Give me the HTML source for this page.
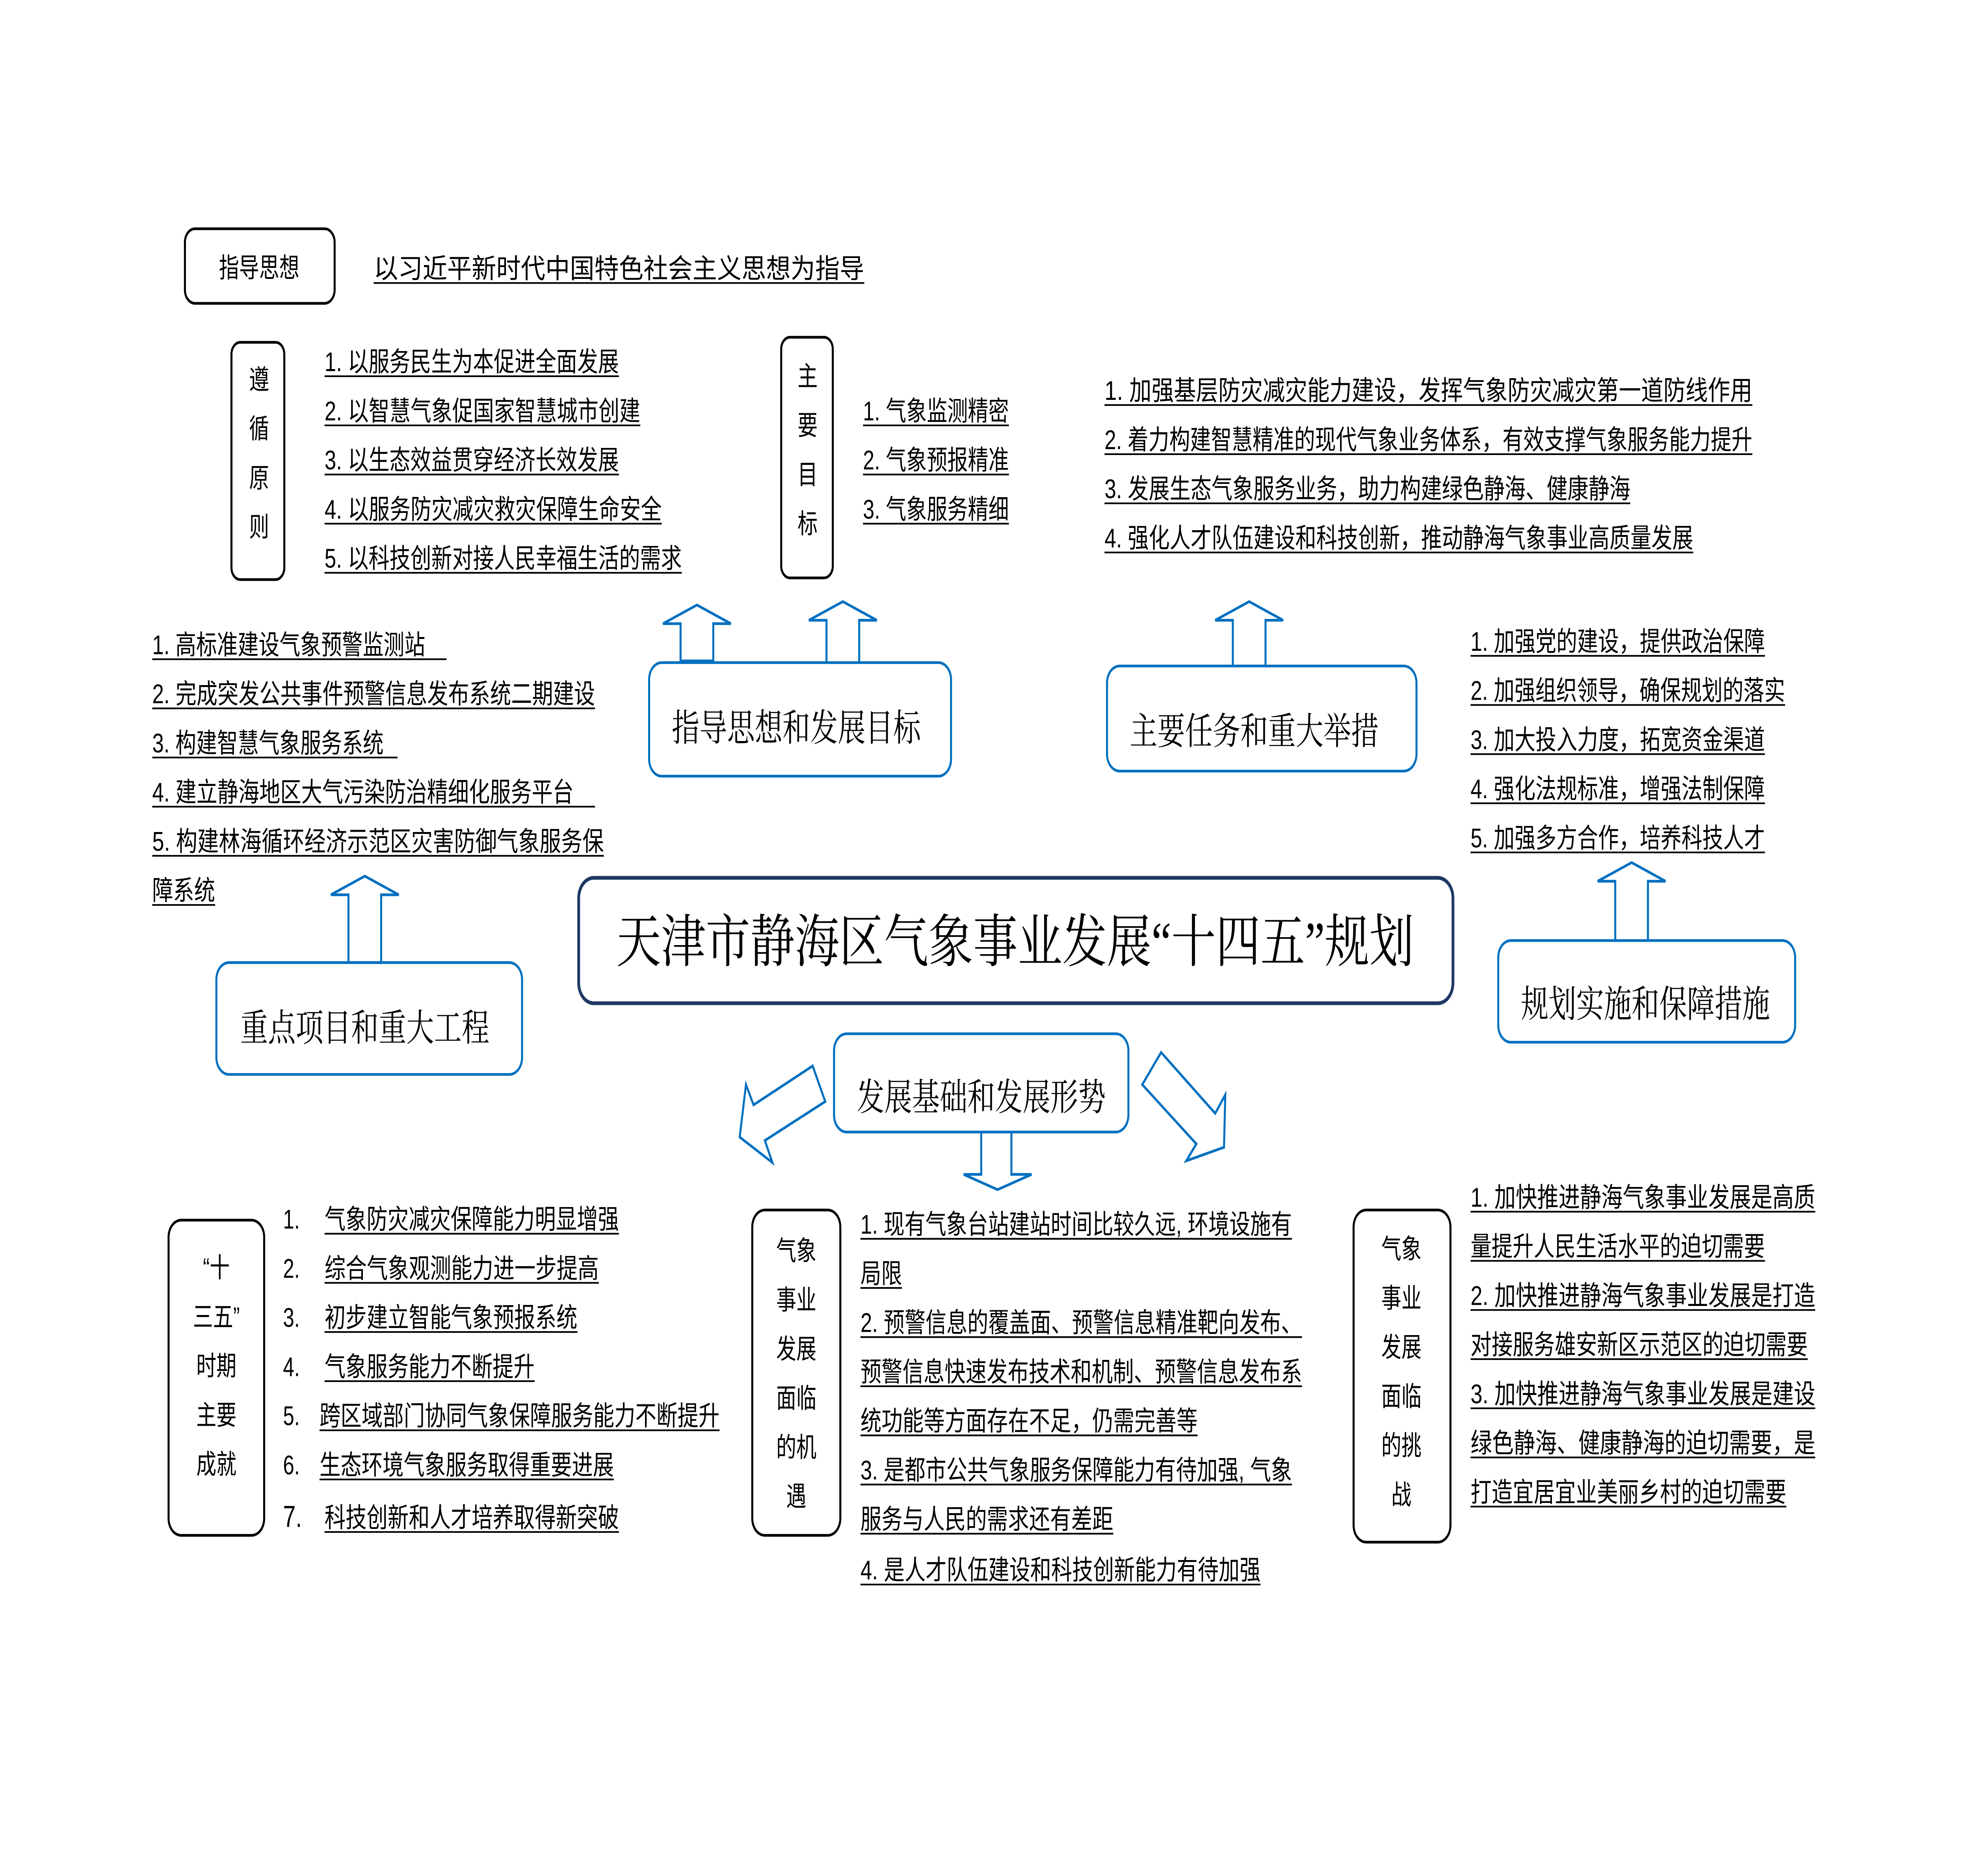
<!DOCTYPE html>
<html><head><meta charset="utf-8"><style>
html,body{margin:0;padding:0;background:#fff;width:100%;height:100%;overflow:hidden;}
svg{display:block;position:absolute;left:0;top:0;width:100vw;height:100vh;}
.s{font-family:"Liberation Sans","Noto Sans CJK SC",sans-serif;font-size:16px;fill:#000;}
.r{font-family:"Liberation Serif","Noto Serif CJK SC",serif;fill:#000;}
.u{stroke:#000;stroke-width:1;}
.bk{fill:none;stroke:#000;stroke-width:1.6;}
.bl{fill:none;stroke:#0070c0;stroke-width:1.6;}
</style></head><body>
<svg viewBox="0 0 1566 1107" preserveAspectRatio="none" xmlns="http://www.w3.org/2000/svg">
<rect width="1566" height="1107" fill="#fff"/>

<rect class="bk" x="147" y="135" width="119" height="44" rx="8"/>
<text class="s" x="206" y="158" font-size="18" text-anchor="middle" dominant-baseline="central">指导思想</text>
<text class="s" x="297" y="164" font-size="18" textLength="390" lengthAdjust="spacingAndGlyphs">以习近平新时代中国特色社会主义思想为指导</text>
<line class="u" x1="297" y1="167" x2="687" y2="167"/>

<rect class="bk" x="184" y="202" width="42" height="140" rx="7"/>
<g class="s" text-anchor="middle" dominant-baseline="central">
<text x="206" y="224">遵</text><text x="206" y="253">循</text><text x="206" y="282">原</text><text x="206" y="311">则</text>
</g>
<text class="s" x="258" y="219" textLength="234" lengthAdjust="spacingAndGlyphs">1. 以服务民生为本促进全面发展</text>
<text class="s" x="258" y="248" textLength="251" lengthAdjust="spacingAndGlyphs">2. 以智慧气象促国家智慧城市创建</text>
<text class="s" x="258" y="277" textLength="234" lengthAdjust="spacingAndGlyphs">3. 以生态效益贯穿经济长效发展</text>
<text class="s" x="258" y="306" textLength="268" lengthAdjust="spacingAndGlyphs">4. 以服务防灾减灾救灾保障生命安全</text>
<text class="s" x="258" y="335" textLength="284" lengthAdjust="spacingAndGlyphs">5. 以科技创新对接人民幸福生活的需求</text>
<line class="u" x1="258" y1="222" x2="492" y2="222"/>
<line class="u" x1="258" y1="251" x2="509" y2="251"/>
<line class="u" x1="258" y1="280" x2="492" y2="280"/>
<line class="u" x1="258" y1="309" x2="526" y2="309"/>
<line class="u" x1="258" y1="338" x2="542" y2="338"/>

<rect class="bk" x="621" y="199" width="41" height="142" rx="7"/>
<g class="s" text-anchor="middle" dominant-baseline="central">
<text x="642" y="222">主</text><text x="642" y="251">要</text><text x="642" y="280">目</text><text x="642" y="309">标</text>
</g>
<text class="s" x="686" y="248" textLength="116" lengthAdjust="spacingAndGlyphs">1. 气象监测精密</text>
<text class="s" x="686" y="277" textLength="116" lengthAdjust="spacingAndGlyphs">2. 气象预报精准</text>
<text class="s" x="686" y="306" textLength="116" lengthAdjust="spacingAndGlyphs">3. 气象服务精细</text>
<line class="u" x1="686" y1="251" x2="802" y2="251"/>
<line class="u" x1="686" y1="280" x2="802" y2="280"/>
<line class="u" x1="686" y1="309" x2="802" y2="309"/>

<text class="s" x="878" y="236" textLength="515" lengthAdjust="spacingAndGlyphs">1. 加强基层防灾减灾能力建设，发挥气象防灾减灾第一道防线作用</text>
<text class="s" x="878" y="265" textLength="515" lengthAdjust="spacingAndGlyphs">2. 着力构建智慧精准的现代气象业务体系，有效支撑气象服务能力提升</text>
<text class="s" x="878" y="294" textLength="418" lengthAdjust="spacingAndGlyphs">3. 发展生态气象服务业务，助力构建绿色静海、健康静海</text>
<text class="s" x="878" y="323" textLength="468" lengthAdjust="spacingAndGlyphs">4. 强化人才队伍建设和科技创新，推动静海气象事业高质量发展</text>
<line class="u" x1="878" y1="239" x2="1393" y2="239"/>
<line class="u" x1="878" y1="268" x2="1393" y2="268"/>
<line class="u" x1="878" y1="297" x2="1296" y2="297"/>
<line class="u" x1="878" y1="326" x2="1346" y2="326"/>

<text class="s" x="121" y="386" textLength="217" lengthAdjust="spacingAndGlyphs">1. 高标准建设气象预警监测站</text>
<text class="s" x="121" y="415" textLength="352" lengthAdjust="spacingAndGlyphs">2. 完成突发公共事件预警信息发布系统二期建设</text>
<text class="s" x="121" y="444" textLength="184" lengthAdjust="spacingAndGlyphs">3. 构建智慧气象服务系统</text>
<text class="s" x="121" y="473" textLength="335" lengthAdjust="spacingAndGlyphs">4. 建立静海地区大气污染防治精细化服务平台</text>
<text class="s" x="121" y="502" textLength="359" lengthAdjust="spacingAndGlyphs">5. 构建林海循环经济示范区灾害防御气象服务保</text>
<text class="s" x="121" y="531" textLength="50" lengthAdjust="spacingAndGlyphs">障系统</text>
<line class="u" x1="121" y1="389" x2="355" y2="389"/>
<line class="u" x1="121" y1="418" x2="473" y2="418"/>
<line class="u" x1="121" y1="447" x2="316" y2="447"/>
<line class="u" x1="121" y1="476" x2="473" y2="476"/>
<line class="u" x1="121" y1="505" x2="480" y2="505"/>
<line class="u" x1="121" y1="534" x2="171" y2="534"/>

<polygon class="bl" fill="#fff" points="554,357 581,368 567,368 567,390 541,390 541,368 527,368"/>
<polygon class="bl" fill="#fff" points="670,355 697,366 683,366 683,391 657,391 657,366 643,366"/>
<polygon class="bl" fill="#fff" points="993,355 1020,366 1006,366 1006,393 980,393 980,366 966,366"/>
<polygon class="bl" fill="#fff" points="1297,509 1324,520 1310,520 1310,555 1284,555 1284,520 1270,520"/>
<polygon class="bl" fill="#fff" points="290,517 317,528 303,528 303,568 277,568 277,528 263,528"/>

<rect class="bl" x="516" y="391" width="240" height="67" rx="10"/>
<text class="r" x="633" y="430" font-size="22" text-anchor="middle" dominant-baseline="central">指导思想和发展目标</text>
<rect class="bl" x="880" y="393" width="246" height="62" rx="10"/>
<text class="r" x="997" y="432" font-size="22" text-anchor="middle" dominant-baseline="central">主要任务和重大举措</text>
<rect class="bl" x="1191" y="555" width="236" height="60" rx="10"/>
<text class="r" x="1308" y="593" font-size="22" text-anchor="middle" dominant-baseline="central">规划实施和保障措施</text>
<rect class="bl" x="172" y="568" width="243" height="66" rx="10"/>
<text class="r" x="290" y="607" font-size="22" text-anchor="middle" dominant-baseline="central">重点项目和重大工程</text>

<text class="s" x="1169" y="384" textLength="234" lengthAdjust="spacingAndGlyphs">1. 加强党的建设，提供政治保障</text>
<text class="s" x="1169" y="413" textLength="250" lengthAdjust="spacingAndGlyphs">2. 加强组织领导，确保规划的落实</text>
<text class="s" x="1169" y="442" textLength="234" lengthAdjust="spacingAndGlyphs">3. 加大投入力度，拓宽资金渠道</text>
<text class="s" x="1169" y="471" textLength="234" lengthAdjust="spacingAndGlyphs">4. 强化法规标准，增强法制保障</text>
<text class="s" x="1169" y="500" textLength="234" lengthAdjust="spacingAndGlyphs">5. 加强多方合作，培养科技人才</text>
<line class="u" x1="1169" y1="387" x2="1403" y2="387"/>
<line class="u" x1="1169" y1="416" x2="1419" y2="416"/>
<line class="u" x1="1169" y1="445" x2="1403" y2="445"/>
<line class="u" x1="1169" y1="474" x2="1403" y2="474"/>
<line class="u" x1="1169" y1="503" x2="1403" y2="503"/>

<rect x="460" y="518" width="695" height="74" rx="12" fill="none" stroke="#1f3864" stroke-width="2.2"/>
<text class="r" x="807" y="556" font-size="34" text-anchor="middle" dominant-baseline="central" textLength="634" lengthAdjust="spacingAndGlyphs">天津市静海区气象事业发展“十四五”规划</text>

<rect class="bl" x="663" y="610" width="234" height="58" rx="10"/>
<text class="r" x="780" y="648" font-size="22" text-anchor="middle" dominant-baseline="central">发展基础和发展形势</text>
<polygon class="bl" fill="#fff" points="780,668 780,693 766,693 793,702 820,693 804,693 804,668"/>
<polygon class="bl" fill="#fff" points="646,629 656,650 608,673 614,686 588,671 593,640 599,652"/>
<polygon class="bl" fill="#fff" points="923,621 908,640 951,675 943,685 973,677 974,646 966,657"/>

<rect class="bk" x="134" y="720" width="76" height="186" rx="10"/>
<g class="s" text-anchor="middle" dominant-baseline="central">
<text x="172" y="748">“十</text><text x="172" y="777">三五”</text><text x="172" y="806">时期</text><text x="172" y="835">主要</text><text x="172" y="864">成就</text>
</g>
<g class="s">
<text x="225" y="725">1.</text><text x="225" y="754">2.</text><text x="225" y="783">3.</text><text x="225" y="812">4.</text><text x="225" y="841">5.</text><text x="225" y="870">6.</text><text x="225" y="901" font-size="18">7.</text>
</g>
<text class="s" x="258" y="725" textLength="234" lengthAdjust="spacingAndGlyphs">气象防灾减灾保障能力明显增强</text>
<text class="s" x="258" y="754" textLength="218" lengthAdjust="spacingAndGlyphs">综合气象观测能力进一步提高</text>
<text class="s" x="258" y="783" textLength="201" lengthAdjust="spacingAndGlyphs">初步建立智能气象预报系统</text>
<text class="s" x="258" y="812" textLength="167" lengthAdjust="spacingAndGlyphs">气象服务能力不断提升</text>
<text class="s" x="254" y="841" textLength="318" lengthAdjust="spacingAndGlyphs">跨区域部门协同气象保障服务能力不断提升</text>
<text class="s" x="254" y="870" textLength="234" lengthAdjust="spacingAndGlyphs">生态环境气象服务取得重要进展</text>
<text class="s" x="258" y="901" textLength="234" lengthAdjust="spacingAndGlyphs">科技创新和人才培养取得新突破</text>
<line class="u" x1="258" y1="728" x2="492" y2="728"/>
<line class="u" x1="258" y1="757" x2="476" y2="757"/>
<line class="u" x1="258" y1="786" x2="459" y2="786"/>
<line class="u" x1="258" y1="815" x2="425" y2="815"/>
<line class="u" x1="254" y1="844" x2="572" y2="844"/>
<line class="u" x1="254" y1="873" x2="488" y2="873"/>
<line class="u" x1="258" y1="904" x2="492" y2="904"/>

<rect class="bk" x="598" y="714" width="70" height="192" rx="10"/>
<g class="s" text-anchor="middle" dominant-baseline="central">
<text x="633" y="738">气象</text><text x="633" y="767">事业</text><text x="633" y="796">发展</text><text x="633" y="825">面临</text><text x="633" y="854">的机</text><text x="633" y="883">遇</text>
</g>
<text class="s" x="684" y="728" textLength="343" lengthAdjust="spacingAndGlyphs">1. 现有气象台站建站时间比较久远, 环境设施有</text>
<text class="s" x="684" y="757" textLength="33" lengthAdjust="spacingAndGlyphs">局限</text>
<text class="s" x="684" y="786" textLength="351" lengthAdjust="spacingAndGlyphs">2. 预警信息的覆盖面、预警信息精准靶向发布、</text>
<text class="s" x="684" y="815" textLength="351" lengthAdjust="spacingAndGlyphs">预警信息快速发布技术和机制、预警信息发布系</text>
<text class="s" x="684" y="844" textLength="268" lengthAdjust="spacingAndGlyphs">统功能等方面存在不足，仍需完善等</text>
<text class="s" x="684" y="873" textLength="343" lengthAdjust="spacingAndGlyphs">3. 是都市公共气象服务保障能力有待加强, 气象</text>
<text class="s" x="684" y="902" textLength="201" lengthAdjust="spacingAndGlyphs">服务与人民的需求还有差距</text>
<text class="s" x="684" y="932" textLength="318" lengthAdjust="spacingAndGlyphs">4. 是人才队伍建设和科技创新能力有待加强</text>
<line class="u" x1="684" y1="731" x2="1027" y2="731"/>
<line class="u" x1="684" y1="760" x2="717" y2="760"/>
<line class="u" x1="684" y1="789" x2="1035" y2="789"/>
<line class="u" x1="684" y1="818" x2="1035" y2="818"/>
<line class="u" x1="684" y1="847" x2="952" y2="847"/>
<line class="u" x1="684" y1="876" x2="1027" y2="876"/>
<line class="u" x1="684" y1="905" x2="885" y2="905"/>
<line class="u" x1="684" y1="935" x2="1002" y2="935"/>

<rect class="bk" x="1076" y="714" width="77" height="196" rx="10"/>
<g class="s" text-anchor="middle" dominant-baseline="central">
<text x="1114" y="737">气象</text><text x="1114" y="766">事业</text><text x="1114" y="795">发展</text><text x="1114" y="824">面临</text><text x="1114" y="853">的挑</text><text x="1114" y="882">战</text>
</g>
<text class="s" x="1169" y="712" textLength="274" lengthAdjust="spacingAndGlyphs">1. 加快推进静海气象事业发展是高质</text>
<text class="s" x="1169" y="741" textLength="234" lengthAdjust="spacingAndGlyphs">量提升人民生活水平的迫切需要</text>
<text class="s" x="1169" y="770" textLength="274" lengthAdjust="spacingAndGlyphs">2. 加快推进静海气象事业发展是打造</text>
<text class="s" x="1169" y="799" textLength="268" lengthAdjust="spacingAndGlyphs">对接服务雄安新区示范区的迫切需要</text>
<text class="s" x="1169" y="828" textLength="274" lengthAdjust="spacingAndGlyphs">3. 加快推进静海气象事业发展是建设</text>
<text class="s" x="1169" y="857" textLength="274" lengthAdjust="spacingAndGlyphs">绿色静海、健康静海的迫切需要，是</text>
<text class="s" x="1169" y="886" textLength="251" lengthAdjust="spacingAndGlyphs">打造宜居宜业美丽乡村的迫切需要</text>
<line class="u" x1="1169" y1="715" x2="1443" y2="715"/>
<line class="u" x1="1169" y1="744" x2="1403" y2="744"/>
<line class="u" x1="1169" y1="773" x2="1443" y2="773"/>
<line class="u" x1="1169" y1="802" x2="1437" y2="802"/>
<line class="u" x1="1169" y1="831" x2="1443" y2="831"/>
<line class="u" x1="1169" y1="860" x2="1443" y2="860"/>
<line class="u" x1="1169" y1="889" x2="1420" y2="889"/>
</svg>
</body></html>
